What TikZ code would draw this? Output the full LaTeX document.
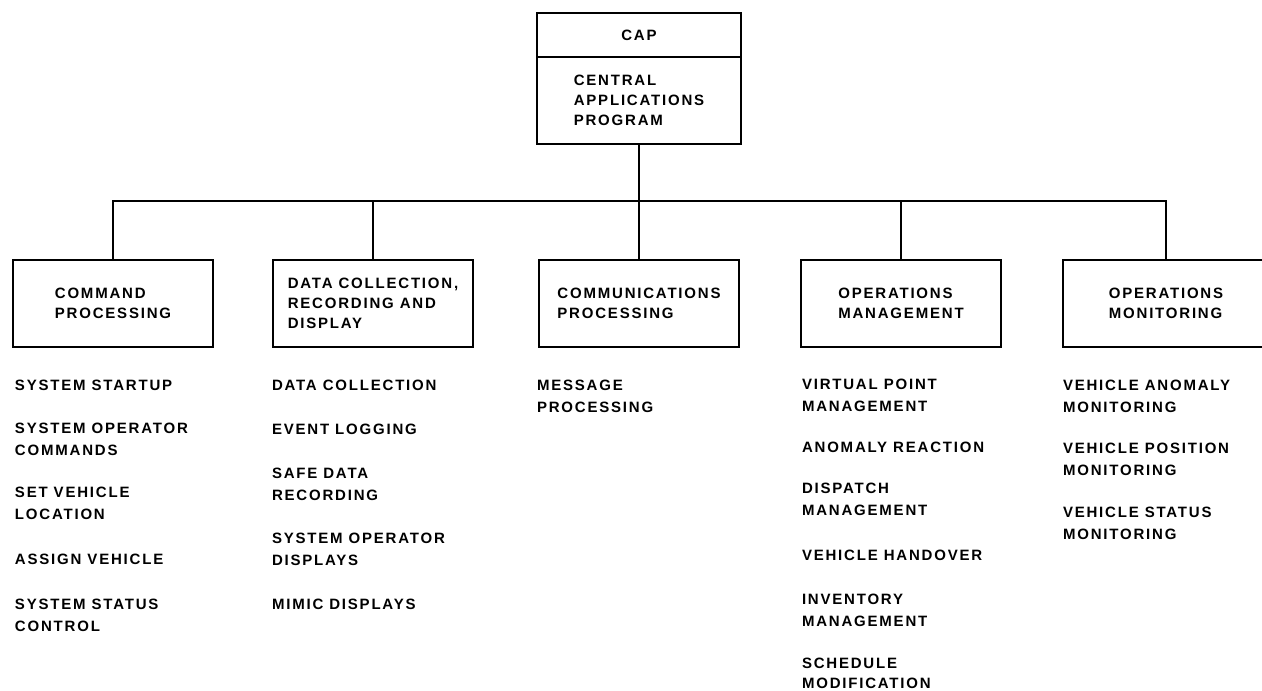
\documentclass[tikz,border=0pt]{standalone}
\usepackage{fontspec}
\newfontfamily\chartfont[LetterSpace=12]{Liberation Sans}
\begin{document}
\begin{tikzpicture}[x=1pt,y=-1pt,
  every node/.style={inner sep=0pt, outer sep=0pt},
  unit/.style={draw, line width=1.8pt, minimum width=200pt, minimum height=87pt,
    align=left, font=\chartfont\bfseries\fontsize{15}{20}\selectfont},
  link/.style={line width=1.8pt},
  list/.style={anchor=north west, align=left,
    font=\chartfont\bfseries\fontsize{15}{22}\selectfont}]
\useasboundingbox (0,0) rectangle (1262,691);

% root program
\node[unit, minimum width=204pt, minimum height=44pt] (cap) at (639,35) {CAP};
\node[unit, minimum width=204pt, minimum height=87pt, anchor=north] (capname)
  at (cap.south) {CENTRAL\\APPLICATIONS\\PROGRAM};

\coordinate (hub) at (639,201);

% subsystems
\node[unit] (cmd)   at (113,303.5) {COMMAND\\PROCESSING};
\node[unit] (dcr)   at (373,303.5) {DATA COLLECTION,\\RECORDING AND\\DISPLAY};
\node[unit] (com)   at (639,303.5) {COMMUNICATIONS\\PROCESSING};
\node[unit] (opm)   at (901,303.5) {OPERATIONS\\MANAGEMENT};
\node[unit, minimum width=206pt] (opmon) at (1166,303.5) {OPERATIONS\\MONITORING};

% tree connectors
\draw[link] (capname.south) -- (hub);
\draw[link] (hub) -| (cmd.north);
\draw[link] (hub) -| (dcr.north);
\draw[link] (hub) -- (com.north);
\draw[link] (hub) -| (opm.north);
\draw[link] (hub) -| (opmon.north);

% function lists
\node[list] (cmdlist) at (15,380) {SYSTEM STARTUP\\[21pt]SYSTEM OPERATOR\\COMMANDS\\[20pt]SET VEHICLE\\LOCATION\\[23pt]ASSIGN VEHICLE\\[23pt]SYSTEM STATUS\\CONTROL};
\node[list] (dcrlist) at (272,380) {DATA COLLECTION\\[22pt]EVENT LOGGING\\[22pt]SAFE DATA\\RECORDING\\[21pt]SYSTEM OPERATOR\\DISPLAYS\\[22pt]MIMIC DISPLAYS};
\node[list] (comlist) at (537,380) {MESSAGE\\PROCESSING};
\node[list] (opmlist) at (802,379) {VIRTUAL POINT\\MANAGEMENT\\[19pt]ANOMALY REACTION\\[19pt]DISPATCH\\MANAGEMENT\\[23pt]VEHICLE HANDOVER\\[22pt]INVENTORY\\MANAGEMENT\\[20pt]SCHEDULE\\[-2pt]MODIFICATION};
\node[list] (monlist) at (1063,380) {VEHICLE ANOMALY\\MONITORING\\[19pt]VEHICLE POSITION\\MONITORING\\[20pt]VEHICLE STATUS\\MONITORING};
\end{tikzpicture}
\end{document}
